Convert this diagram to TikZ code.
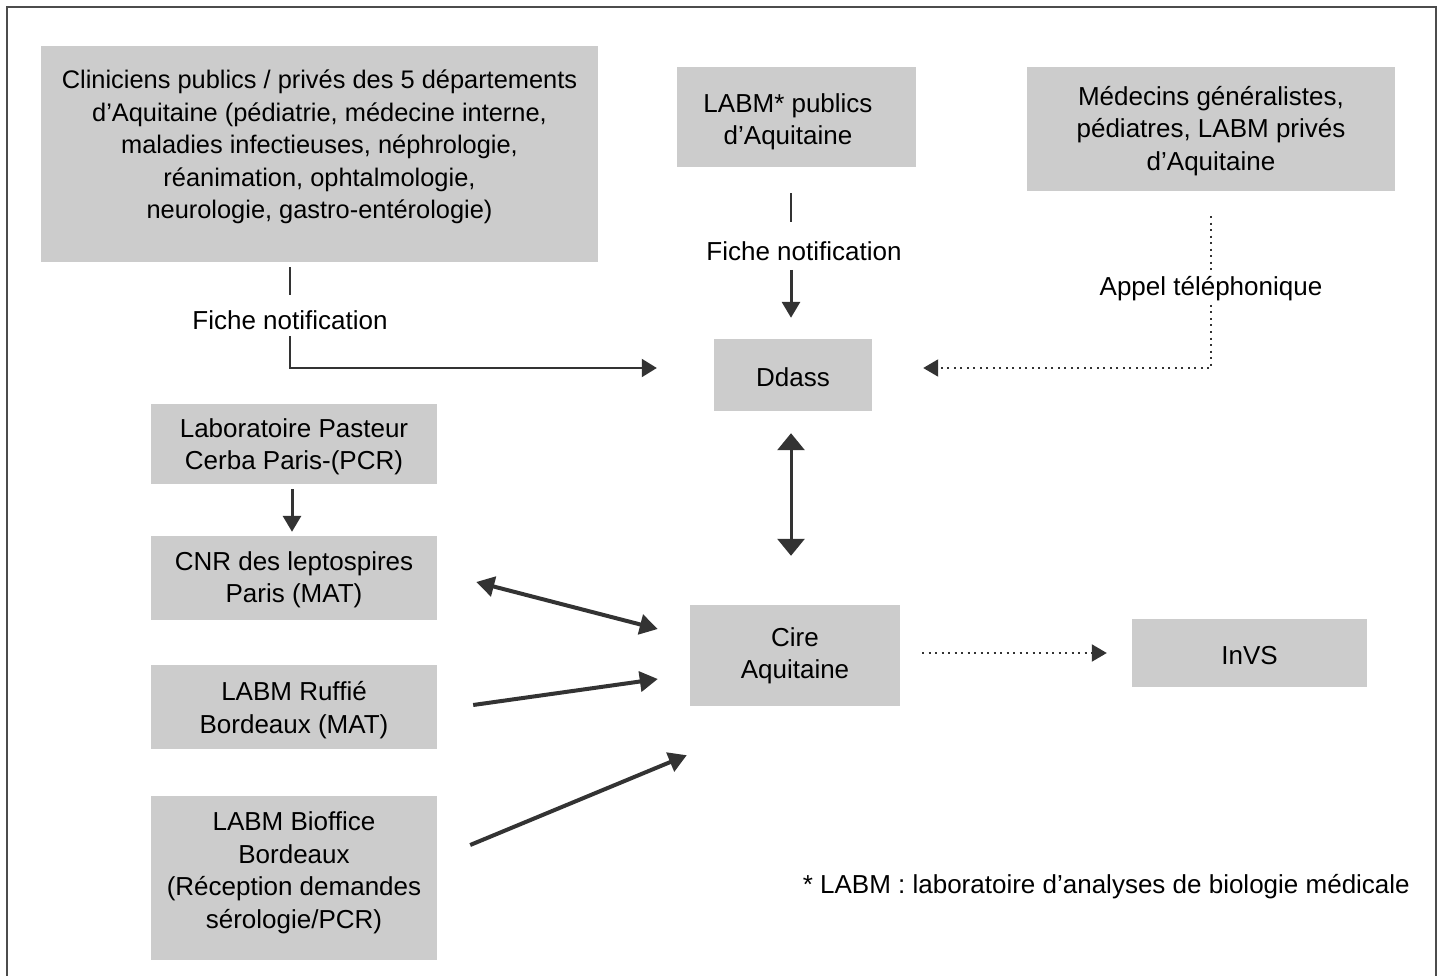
\documentclass[tikz,border=0pt]{standalone}
\usepackage{fontspec}
\setmainfont{Liberation Sans}
\usetikzlibrary{arrows.meta}
\definecolor{boxgray}{HTML}{CCCCCC}
\definecolor{ink}{HTML}{333333}
\begin{document}
\begin{tikzpicture}[x=1pt,y=-1pt,
  box/.style={fill=boxgray, draw=none, align=center, font=\fontsize{26}{32.5}\selectfont, inner sep=0pt},
  txt/.style={align=center, font=\fontsize{26}{32.5}\selectfont, inner sep=0pt},
  lbl/.style={font=\fontsize{26}{32.5}\selectfont, inner sep=0pt},
  ln/.style={draw=ink, line width=2pt},
  arr/.style={draw=ink, line width=3pt, -{Triangle[length=16pt,width=18pt]}},
  arrthick/.style={draw=ink, line width=4pt, {Triangle[length=18pt,width=20pt]}-{Triangle[length=18pt,width=20pt]}},
  arrone/.style={draw=ink, line width=4pt, -{Triangle[length=18pt,width=20pt]}},
  arrvert/.style={draw=ink, line width=3pt, {Triangle[length=17pt,width=27pt]}-{Triangle[length=17pt,width=27pt]}},
  dotln/.style={draw=ink, line width=2pt, dash pattern=on 2pt off 4.5pt},
  dotarr/.style={dotln, -{Triangle[length=15pt,width=17pt]}}
]
\useasboundingbox (0,0) rectangle (1443,976);
\draw[line width=2pt, color=black!70] (7,976) -- (7,7) -- (1436,7) -- (1436,976);

% boxes
\node[box, minimum width=557pt, minimum height=216pt] (clin) at (319.5,154) {};
\node[txt, font=\fontsize{25.4}{32.5}\selectfont] (clintxt) at (319.5,147) {Cliniciens publics / privés des 5 départements\\d’Aquitaine (pédiatrie, médecine interne,\\maladies infectieuses, néphrologie,\\réanimation, ophtalmologie,\\neurologie, gastro-entérologie)};
\node[box, minimum width=239pt, minimum height=100pt] (labmpub) at (796.5,117) {};
\node[txt] (labmpubtxt) at (788,122) {LABM* publics\\d’Aquitaine};
\node[box, minimum width=368pt, minimum height=124pt] (medgen) at (1211,129) {};
\node[txt] (medgentxt) at (1211,131) {Médecins généralistes,\\pédiatres, LABM privés\\d’Aquitaine};
\node[box, minimum width=158pt, minimum height=72pt] (ddass) at (793,375) {};
\node[txt] (ddasstxt) at (793,377) {Ddass};
\node[box, minimum width=286pt, minimum height=80pt] (past) at (294,444) {};
\node[txt] (pasttxt) at (294,447) {Laboratoire Pasteur\\Cerba Paris-(PCR)};
\node[box, minimum width=286pt, minimum height=84pt] (cnr) at (294,578) {};
\node[txt] (cnrtxt) at (294,580) {CNR des leptospires\\Paris (MAT)};
\node[box, minimum width=286pt, minimum height=84pt] (ruf) at (294,707) {};
\node[txt] (ruftxt) at (294,710) {LABM Ruffié\\Bordeaux (MAT)};
\node[box, minimum width=286pt, minimum height=164pt] (bio) at (294,878) {};
\node[txt] (biotxt) at (294,873) {LABM Bioffice\\Bordeaux\\(Réception demandes\\sérologie/PCR)};
\node[box, minimum width=210pt, minimum height=101pt] (cire) at (795,655.5) {};
\node[txt] (ciretxt) at (795,656) {Cire\\Aquitaine};
\node[box, minimum width=235pt, minimum height=68pt] (invs) at (1249.5,653) {};
\node[txt] (invstxt) at (1249.5,656) {InVS};

% labels
\node[lbl] (fn1) at (290,320) {Fiche notification};
\node[lbl] (fn2) at (804,251) {Fiche notification};
\coordinate (c2) at (791,251);
\node[lbl] (tel) at (1211,289) {Appel téléphonique};
\node[lbl, anchor=east] (foot) at (1410,887) {* LABM : laboratoire d’analyses de biologie médicale};

% connectors
\draw[ln, shorten <=5pt, shorten >=25pt] (clin.south -| fn1) -- (fn1.center);
\draw[ln, -{Triangle[length=15pt,width=18pt]}, shorten <=16pt, shorten >=57pt] (fn1.center) |- ([yshift=7pt]ddass.west);

\draw[ln, shorten <=26pt, shorten >=29pt] (labmpub.south -| c2) -- (c2);
\draw[arr, shorten <=19pt, shorten >=21pt] (c2) -- (c2 |- ddass.north);

\draw[dotln, shorten <=25pt, shorten >=19pt] (medgen.south -| tel) -- (tel.center);
\draw[dotarr, shorten <=16pt, shorten >=51pt] (tel.center) |- ([yshift=7pt]ddass.east);

\draw[arr, shorten <=5pt, shorten >=4pt] ([xshift=-2pt]past.south) -- ([xshift=-2pt]past.south |- cnr.north);

\draw[arrvert, shorten <=22pt, shorten >=49pt] ([xshift=-2pt]ddass.south) -- ([xshift=-2pt]ddass.south |- cire.north);

\draw[arrthick] ([xshift=39pt,yshift=-4pt]cnr.east) -- ([xshift=-32pt,yshift=26.5pt]cire.west);
\draw[arrone] ([xshift=36pt,yshift=2pt]ruf.east) -- ([xshift=-32pt,yshift=-23.5pt]cire.west);
\draw[arrone] ([xshift=33pt,yshift=33pt]bio.east) -- ([xshift=-3pt,yshift=-49pt]cire.south west);

\draw[dotarr, shorten <=22pt, shorten >=25pt] (cire.east |- invs.west) -- (invs.west);
\end{tikzpicture}
\end{document}
